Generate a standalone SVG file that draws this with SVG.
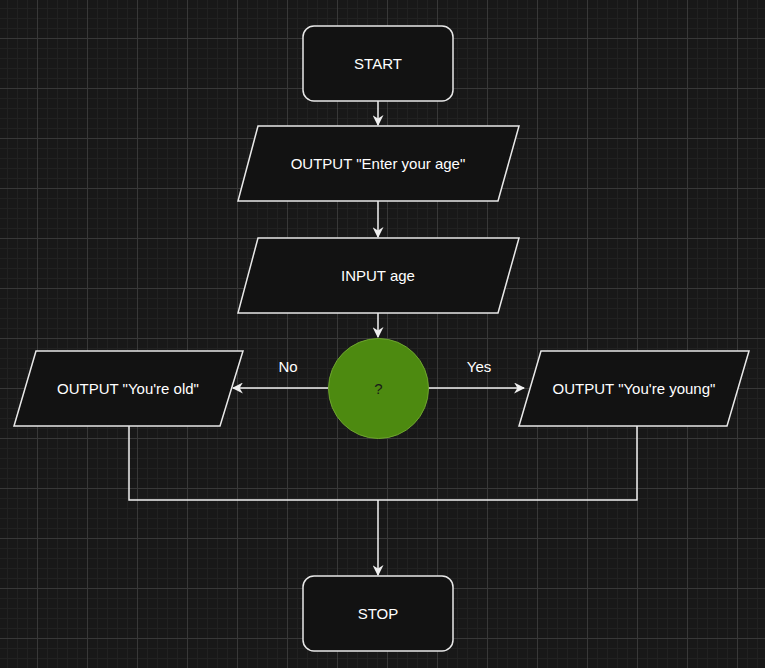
<svg xmlns="http://www.w3.org/2000/svg" width="765" height="668" viewBox="0 0 765 668">
<style>
.node{fill:#121212;stroke:#e8e8e8;stroke-width:1.5}
.t{font-family:"Liberation Sans",Arial,sans-serif;font-size:15px;fill:#ffffff;text-anchor:middle;dominant-baseline:central}
.edge{fill:none;stroke:#f0f0f0;stroke-width:1.5}
</style>
<defs>
<pattern id="minor" patternUnits="userSpaceOnUse" x="7" y="8" width="10" height="10">
<path d="M0.5 0V10M0 0.5H10" stroke="#212121" stroke-width="1"/>
</pattern>
<pattern id="major" patternUnits="userSpaceOnUse" x="37" y="38" width="50" height="50">
<path d="M0.5 0V50M0 0.5H50" stroke="#383838" stroke-width="1"/>
</pattern>
<marker id="arr" viewBox="0 0 10 10" refX="9" refY="5" markerWidth="11" markerHeight="11" markerUnits="userSpaceOnUse" orient="auto">
<path d="M0 0L10 5L0 10L3 5Z" fill="#f0f0f0"/>
</marker>
</defs>
<rect width="765" height="668" fill="#181818"/>
<rect width="765" height="668" fill="url(#minor)"/>
<rect width="765" height="668" fill="url(#major)"/>
<g id="connectors">
<path class="edge" d="M378 101V125" marker-end="url(#arr)"/>
<path class="edge" d="M378 201V237" marker-end="url(#arr)"/>
<path class="edge" d="M378 313V337" marker-end="url(#arr)"/>
<path class="edge" d="M328 388H233" marker-end="url(#arr)"/>
<path class="edge" d="M428 388H524" marker-end="url(#arr)"/>
<path class="edge" d="M129 426V500H637V426"/>
<path class="edge" d="M378 500V575" marker-end="url(#arr)"/>
<text class="t" x="288" y="366">No</text>
<text class="t" x="479" y="366">Yes</text>
</g>
<g id="start">
<rect class="node" x="303" y="26" width="150" height="75" rx="11"/>
<text class="t" x="378" y="63">START</text>
</g>
<g id="out-enter">
<path class="node" d="M258 126H519L498 201H238Z"/>
<text class="t" x="378" y="163">OUTPUT "Enter your age"</text>
</g>
<g id="input-age">
<path class="node" d="M258 238H519L498 313H238Z"/>
<text class="t" x="378" y="275">INPUT age</text>
</g>
<g id="decision">
<circle cx="378.5" cy="388.5" r="50" fill="#4d8a10" stroke="#6ea52e" stroke-width="1"/>
<text class="t" x="378.5" y="388" style="fill:#1a1a1a">?</text>
</g>
<g id="out-old">
<path class="node" d="M36 351H243L220 426H14Z"/>
<text class="t" x="128" y="388">OUTPUT "You're old"</text>
</g>
<g id="out-young">
<path class="node" d="M541 351H749L727 426H519Z"/>
<text class="t" x="634" y="388">OUTPUT "You're young"</text>
</g>
<g id="stop">
<rect class="node" x="303" y="576" width="150" height="75" rx="11"/>
<text class="t" x="378" y="613">STOP</text>
</g>
</svg>
